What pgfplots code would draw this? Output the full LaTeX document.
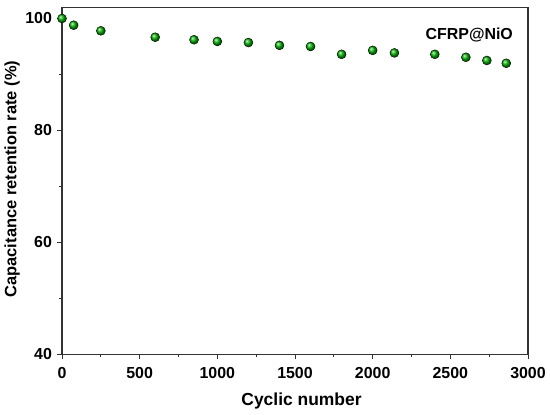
\documentclass[border=0pt]{standalone}
\usepackage{pgfplots}
\pgfplotsset{compat=1.18}
\usetikzlibrary{calc}
\usepackage{fontspec}
\setmainfont{Liberation Sans}
\begin{document}
\begin{tikzpicture}[x=1bp,y=1bp]
\begin{axis}[
  scale only axis,
  width=466bp, height=347bp,
  xmin=0, xmax=3000, ymin=40, ymax=102,
  xtick={0,500,...,3000}, ytick={40,60,80,100},
  minor x tick num=1, minor y tick num=1,
  tick align=outside,
  xtick pos=bottom, ytick pos=left,
  major tick length=5bp, minor tick length=3bp,
  axis line style={line width=1.1pt, black!80},
  every tick/.style={line width=1pt, black!80},
  tick label style={font=\fontsize{16}{17}\selectfont\bfseries},
  xticklabel style={yshift=-5bp},
  yticklabel style={xshift=-1.5bp},
  /pgf/number format/assume math mode=true,
  /pgf/number format/set thousands separator={},
  every axis x label/.style={at={(axis description cs:0.514,0)}, anchor=base, yshift=-51bp,
     font=\fontsize{17.5}{19}\selectfont\bfseries},
  every axis y label/.style={at={(axis description cs:-0.107,0.505)}, anchor=center, rotate=90,
     font=\fontsize{16.5}{18}\selectfont\bfseries},
  xlabel={Cyclic number},
  ylabel={Capacitance retention rate (\%)},
  clip=false,
]
\addplot[only marks, mark=ball, mark size=4.5bp, ball color={rgb,255:red,0;green,175;blue,0}]
coordinates {
(0,100) (75,98.8) (250,97.8) (600,96.65) (850,96.2) (1000,95.9)
(1200,95.7) (1400,95.2) (1600,95.0) (1800,93.6) (2000,94.3)
(2140,93.85) (2400,93.6) (2600,93.07) (2735,92.5) (2860,92.0)
};
\node[anchor=north east, inner sep=0pt, font=\fontsize{16}{17}\selectfont\bfseries] at (rel axis cs:0.968,0.942) {CFRP@NiO};
\end{axis}
\pgfresetboundingbox
\path[use as bounding box] ($(current axis.south west)+(-62bp,-60bp)$) rectangle ($(current axis.north east)+(22bp,7.3bp)$);
\end{tikzpicture}
\end{document}
